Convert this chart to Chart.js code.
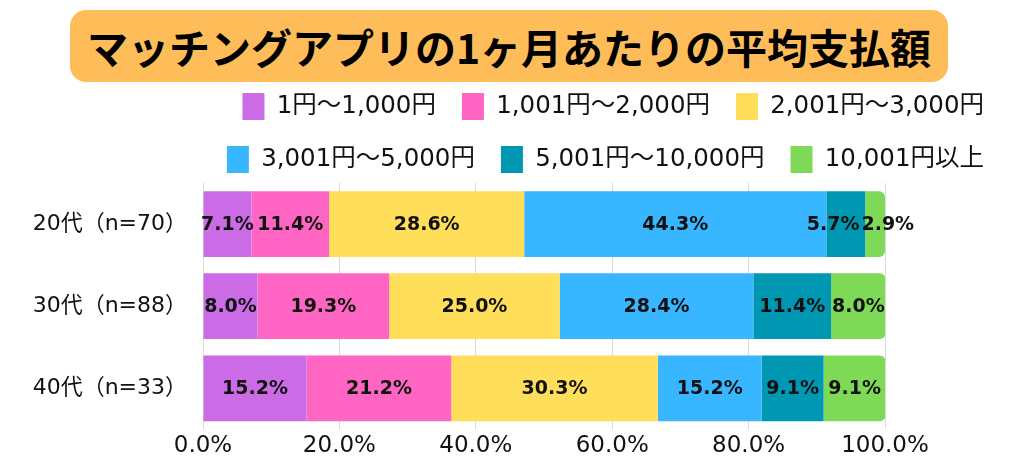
<!DOCTYPE html>
<html lang="ja">
<head>
<meta charset="utf-8">
<script src="https://cdn.jsdelivr.net/npm/chart.js@4"></script>
<style>
  html, body { margin: 0; padding: 0; background: #fff; }
  #wrap { position: relative; width: 1024px; height: 469px; }
  #title {
    position: absolute; left: 70px; top: 10px; width: 878px; height: 72px;
    background: #FFBD59; border-radius: 16px;
    display: flex; align-items: center; justify-content: center;
    font-family: "Noto Sans CJK JP", sans-serif; font-weight: 700; font-size: 41px;
    color: #000; z-index: 2;
  }
  canvas { position: absolute; left: 0; top: 0; }
</style>
</head>
<body>
<div id="wrap">
  <div id="title">マッチングアプリの1ヶ月あたりの平均支払額</div>
  <canvas id="chart" width="1024" height="469"></canvas>
</div>
<script>
// 年代（カテゴリ）
const ageGroups = ["20代（n=70）", "30代（n=88）", "40代（n=33）"];
// 支払額の区分
const priceRanges = ["1円～1,000円", "1,001円～2,000円", "2,001円～3,000円", "3,001円～5,000円", "5,001円～10,000円", "10,001円以上"];
// 各区分の割合（％）: 20代, 30代, 40代
const range1 = [7.1, 8.0, 15.2];
const range2 = [11.4, 19.3, 21.2];
const range3 = [28.6, 25.0, 30.3];
const range4 = [44.3, 28.4, 15.2];
const range5 = [5.7, 11.4, 9.1];
const range6 = [2.9, 8.0, 9.1];
const rangeColors = ["#CB6CE6", "#FF66C4", "#FFDE59", "#38B6FF", "#0097B2", "#7ED957"];

const FONT = '"DejaVu Sans", "Noto Sans CJK JP", sans-serif';
const LEGEND_ROW_WIDTH = 840; // 凡例を3個ずつ2行に折り返す

// 棒の中央に割合を描く（重なる時は左右に押し広げる）
const barLabels = {
  id: "barLabels",
  afterDatasetsDraw(chart) {
    const ctx = chart.ctx;
    ctx.save();
    ctx.font = "bold 19px " + FONT;
    ctx.fillStyle = "#111";
    ctx.textAlign = "center";
    ctx.textBaseline = "middle";
    chart.data.labels.forEach((_, j) => {
      const items = chart.data.datasets.map((ds, i) => {
        const bar = chart.getDatasetMeta(i).data[j];
        const text = ds.data[j].toFixed(1) + "%";
        return { text, cx: (bar.x + bar.base) / 2, y: bar.y, w: ctx.measureText(text).width };
      });
      for (let k = 1; k < items.length; k++) {
        const a = items[k - 1], b = items[k];
        const overlap = (a.cx + a.w / 2 + 2) - (b.cx - b.w / 2);
        if (overlap > 0) { a.cx -= overlap / 2; b.cx += overlap / 2; }
      }
      items.forEach(it => ctx.fillText(it.text, it.cx, it.y + 1));
    });
    ctx.restore();
  }
};

// 凡例の折り返し幅だけ狭くする
const legendRows = {
  id: "legendRows",
  beforeLayout(chart) {
    const lg = chart.legend;
    if (!lg || lg._rowPatch) return;
    lg._rowPatch = true;
    const fit = lg.fit;
    lg.fit = function () {
      const full = this.maxWidth;
      this.maxWidth = LEGEND_ROW_WIDTH;
      fit.call(this);
      this.maxWidth = full;
      this.width = full;
    };
  }
};

const allRanges = [range1, range2, range3, range4, range5, range6];

new Chart(document.getElementById("chart"), {
  type: "bar",
  data: {
    labels: ageGroups,
    datasets: allRanges.map((vals, i) => ({
      label: priceRanges[i],
      data: vals,
      backgroundColor: rangeColors[i],
      borderWidth: 0,
      borderRadius: 6,
      barPercentage: 0.8,
      categoryPercentage: 1
    }))
  },
  options: {
    indexAxis: "y",
    responsive: false,
    animation: false,
    layout: { padding: { top: 67, right: 14, bottom: 6, left: 0 } },
    scales: {
      x: {
        stacked: true,
        min: 0,
        max: 100,
        ticks: {
          stepSize: 20,
          color: "#111",
          font: { family: FONT, size: 23 },
          padding: 3,
          callback: v => v.toFixed(1) + "%"
        },
        grid: { color: "#dcdcdc", drawTicks: false },
        border: { display: false },
        afterFit: scale => { scale.paddingRight = 139; }
      },
      y: {
        stacked: true,
        ticks: { color: "#111", font: { family: FONT, size: 22 }, padding: 8 },
        grid: { display: false },
        border: { display: false },
        afterFit: scale => { scale.width = 203; }
      }
    },
    plugins: {
      legend: {
        position: "top",
        align: "end",
        labels: {
          boxWidth: 22,
          boxHeight: 27,
          padding: 26,
          color: "#111",
          font: { family: FONT, size: 24.5 }
        }
      },
      tooltip: { enabled: false }
    }
  },
  plugins: [barLabels, legendRows]
});
</script>
</body>
</html>
